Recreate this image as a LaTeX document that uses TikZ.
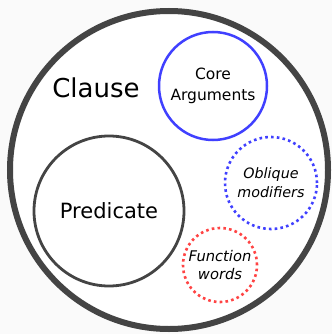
\documentclass[tikz,border=0pt]{standalone}
\usepackage{fontspec}
\setmainfont{DejaVu Sans}
\definecolor{bg}{HTML}{FAFAFA}
\definecolor{dgrey}{HTML}{444444}
\definecolor{cblue}{HTML}{4040FF}
\definecolor{cred}{HTML}{FF4444}
\begin{document}
\begin{tikzpicture}[x=1pt,y=-1pt,
  ring/.style={circle,draw,inner sep=0pt,align=center},
  dotring/.style={ring,line width=2.6pt,dash pattern=on 2.6pt off 3.2pt}]
\useasboundingbox[fill=bg] (0,0) rectangle (332,334);
\node[ring,draw=dgrey,fill=white,line width=6pt,minimum size=318pt] (clause) at (169,170) {};
\node[font=\fontsize{26}{30}\selectfont] (clabel) at (96,88) {Clause};
\node[ring,draw=cblue,line width=2.5pt,minimum size=108pt,
  font=\fontsize{15.5}{20.7}\selectfont] (core) at (213,86) {Core\\Arguments};
\node[ring,draw=dgrey,line width=2.8pt,minimum size=150pt,
  font=\fontsize{21}{25}\selectfont] (pred) at (109,211) {Predicate};
\node[dotring,draw=cblue,minimum size=92pt,
  font=\fontsize{14.3}{19}\selectfont\itshape] (obl) at (271,183) {Oblique\\modifiers};
\node[dotring,draw=cred,minimum size=74pt,
  font=\fontsize{14.7}{18}\selectfont\itshape] (func) at (220,265) {Function\\words};
\end{tikzpicture}
\end{document}
